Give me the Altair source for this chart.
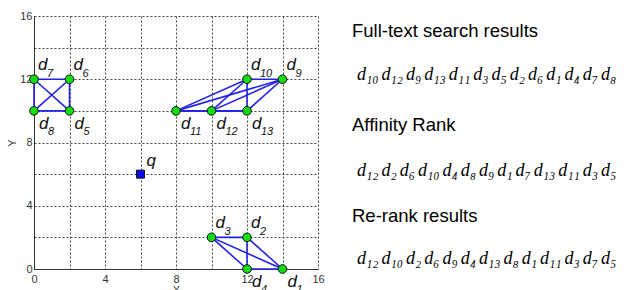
import altair as alt
import pandas as pd
from itertools import combinations

# ---------------- data ----------------
doc_ids = [1, 2, 3, 4, 5, 6, 7, 8, 9, 10, 11, 12, 13]
doc_x = [14, 12, 10, 12, 2, 2, 0, 0, 14, 12, 8, 10, 12]
doc_y = [0, 2, 2, 0, 10, 12, 12, 10, 12, 12, 10, 10, 10]
doc_cluster = ["C", "C", "C", "C", "A", "A", "A", "A", "B", "B", "B", "B", "B"]

query_name = ["q"]
query_x = [6]
query_y = [6]

axis_ticks = [0, 4, 8, 12, 16]
grid_steps = [0, 2, 4, 6, 8, 10, 12, 14, 16]

headings = ["Full-text search results", "Affinity Rank", "Re-rank results"]
rank_fulltext = [10, 12, 9, 13, 11, 3, 5, 2, 6, 1, 4, 7, 8]
rank_affinity = [12, 2, 6, 10, 4, 8, 9, 1, 7, 13, 11, 3, 5]
rank_rerank = [12, 10, 2, 6, 9, 4, 13, 8, 1, 11, 3, 7, 5]

# ---------------- tables ----------------
SUB = str.maketrans("0123456789", "₀₁₂₃₄₅₆₇₈₉")


def ranking_text(r):
    return "\u2006".join("d" + str(i).translate(SUB) for i in r)


pts = pd.DataFrame({"id": doc_ids, "x": doc_x, "y": doc_y, "cluster": doc_cluster})
pts["d"] = "d"
pts["sub"] = pts["id"].astype(str)
pts["below"] = pts["y"] == pts.groupby("cluster")["y"].transform("min")

edge_rows = []
for c, g in pts.groupby("cluster"):
    for (_, a), (_, b) in combinations(g.iterrows(), 2):
        edge_rows.append({"x": a.x, "y": a.y, "x2": b.x, "y2": b.y})
edges = pd.DataFrame(edge_rows)

qdf = pd.DataFrame({"name": query_name, "x": query_x, "y": query_y})

# ---------------- chart ----------------
LBL = "Liberation Sans"
xscale = alt.Scale(domain=[0, 16], nice=False, zero=False)
yscale = alt.Scale(domain=[0, 16], nice=False, zero=False)
label_expr = "indexof([" + ",".join(str(v) for v in axis_ticks) + "], datum.value) >= 0 ? datum.label : ''"

x_axis = alt.Axis(
    values=grid_steps, labelExpr=label_expr,
    ticks=False, tickSize=0, grid=True, gridDash=[2, 2], gridColor="#444", gridWidth=1,
    domainColor="#333", domainWidth=1, labelFont=LBL, labelFontSize=11, labelColor="#333",
    labelPadding=4, labelFlush=False, labelOverlap=False,
    title="X", titleFont=LBL, titleFontSize=11, titleFontWeight="normal", titleColor="#333",
    titlePadding=0,
)
y_axis = alt.Axis(
    values=grid_steps, labelExpr=label_expr,
    ticks=False, tickSize=0, grid=True, gridDash=[2, 2], gridColor="#444", gridWidth=1,
    domainColor="#333", domainWidth=1, labelFont=LBL, labelFontSize=11, labelColor="#333",
    labelPadding=2, labelFlush=False, labelOverlap=False,
    title="Y", titleFont=LBL, titleFontSize=11, titleFontWeight="normal", titleColor="#333",
    titlePadding=2,
)

X = alt.X("x:Q", scale=xscale, axis=x_axis)
Y = alt.Y("y:Q", scale=yscale, axis=y_axis)

edge_layer = alt.Chart(edges).mark_rule(color="#2222e6", strokeWidth=1.6).encode(
    x=X, y=Y, x2="x2:Q", y2="y2:Q",
)

point_layer = alt.Chart(pts).mark_point(
    shape="circle", filled=True, size=75, fill="#14dc14", stroke="#111", strokeWidth=1, opacity=1
).encode(x=X, y=Y)

q_layer = alt.Chart(qdf).mark_point(
    shape="square", filled=True, size=64, fill="#0a0af0", stroke="#111", strokeWidth=1, opacity=1
).encode(x=X, y=Y)

above = alt.datum.below == False
below = alt.datum.below == True

base_lbl = alt.Chart(pts)
d_above = base_lbl.transform_filter(above).mark_text(
    font=LBL, fontStyle="italic", fontSize=17, align="left", baseline="alphabetic", dx=4, dy=-9, color="#111"
).encode(x=X, y=Y, text="d:N")
s_above = base_lbl.transform_filter(above).mark_text(
    font=LBL, fontStyle="italic", fontSize=11, align="left", baseline="alphabetic", dx=13, dy=-2, color="#111"
).encode(x=X, y=Y, text="sub:N")
d_below = base_lbl.transform_filter(below).mark_text(
    font=LBL, fontStyle="italic", fontSize=17, align="left", baseline="alphabetic", dx=5, dy=18, color="#111"
).encode(x=X, y=Y, text="d:N")
s_below = base_lbl.transform_filter(below).mark_text(
    font=LBL, fontStyle="italic", fontSize=11, align="left", baseline="alphabetic", dx=14, dy=24, color="#111"
).encode(x=X, y=Y, text="sub:N")

q_text = alt.Chart(qdf).mark_text(
    font=LBL, fontStyle="italic", fontSize=17, align="left", baseline="alphabetic", dx=6, dy=-8, color="#111"
).encode(x=X, y=Y, text="name:N")

# right-hand annotation texts
ranking_lines = [ranking_text(rank_fulltext), ranking_text(rank_affinity), ranking_text(rank_rerank)]
head_y = [21, 115, 206]
rank_y = [64, 160, 248]
side_layers = []
for h, hy, r, ry in zip(headings, head_y, ranking_lines, rank_y):
    side_layers.append(
        alt.Chart(pd.DataFrame({"t": [h]})).mark_text(
            font=LBL, fontSize=18.5, align="left", baseline="alphabetic", color="#000"
        ).encode(x=alt.value(318), y=alt.value(hy), text="t:N")
    )
    side_layers.append(
        alt.Chart(pd.DataFrame({"t": [r]})).mark_text(
            font="Liberation Serif", fontStyle="italic", fontSize=18, align="left", baseline="alphabetic", color="#000"
        ).encode(x=alt.value(323), y=alt.value(ry), text="t:N")
    )

chart = alt.layer(
    edge_layer, point_layer, q_layer, d_above, s_above, d_below, s_below, q_text, *side_layers
).properties(
    width=284, height=253,
    autosize=alt.AutoSizeParams(type="none"),
    padding={"left": 26, "top": 8, "right": 303, "bottom": 21},
    background="white",
).configure_view(stroke=None)

chart.save("out.html", embed_options={"renderer": "svg", "actions": False})
